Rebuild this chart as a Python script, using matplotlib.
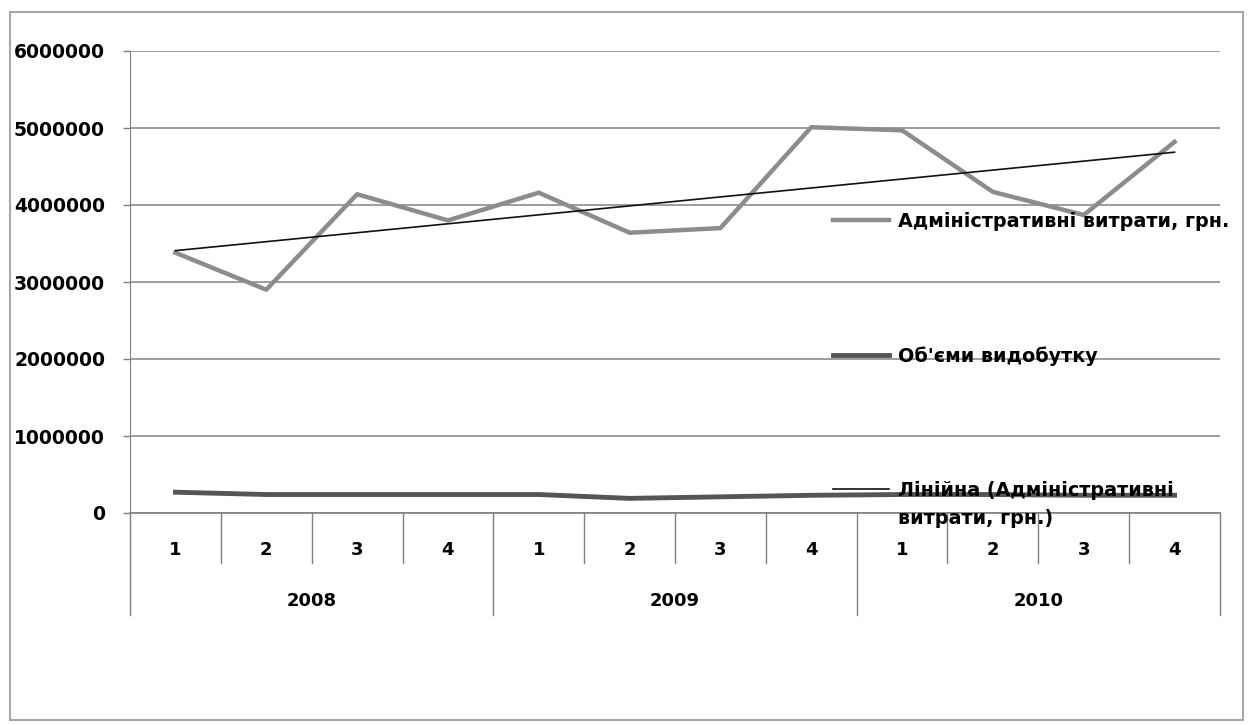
import numpy as np
import matplotlib
matplotlib.use("Agg")
import matplotlib.pyplot as plt
from matplotlib.patches import Rectangle
import matplotlib.transforms as mtransforms

years = ["2008", "2009", "2010"]
quarters = ["1", "2", "3", "4"]
admin_costs = [3380000, 2900000, 4140000, 3800000, 4160000, 3640000,
               3700000, 5010000, 4970000, 4170000, 3870000, 4820000]
production = [270000, 240000, 240000, 240000, 240000, 190000,
              210000, 230000, 240000, 240000, 230000, 230000]
labels = ["Адміністративні витрати, грн.", "Об'єми видобутку",
          "Лінійна (Адміністративні", "витрати, грн.)"]


def show():
    plt.rcParams['font.family'] = ['DejaVu Sans']
    plt.rcParams['font.weight'] = 'bold'
    fs = 13
    lfs = 13.8

    x = np.arange(len(admin_costs))
    k, b = np.polyfit(x, admin_costs, 1)
    trend = k * x + b

    fig = plt.figure(figsize=(12.53, 7.25), dpi=100)
    ax = fig.add_axes([130/1253, 1-513/725, 1090/1253, 462/725])

    fig.patches.append(Rectangle((10/1253, 5/725), 1233/1253, 708/725,
                                 transform=fig.transFigure, fill=False,
                                 edgecolor="#a8a8a8", lw=1.5))

    ax.plot(x, admin_costs, color="#8c8c8c", lw=3.2, label=labels[0], zorder=3)
    ax.plot(x, production, color="#555555", lw=3.5, label=labels[1], zorder=3)
    ax.plot(x, trend, color="#111111", lw=1.2, label=labels[2], zorder=4)

    ax.set_xlim(-0.5, len(x) - 0.5)
    ax.set_ylim(0, 6000000)
    ax.set_yticks(np.arange(0, 6000001, 1000000))
    ax.set_yticklabels([str(v) for v in range(0, 6000001, 1000000)],
                       fontsize=13.5, fontweight='bold')
    ax.tick_params(axis='y', length=5, width=1, color="#808080", pad=13)
    ax.set_xticks([])
    ax.grid(axis='y', color="#8c8c8c", lw=1.2)
    ax.set_axisbelow(True)
    for s in ["top", "right"]:
        ax.spines[s].set_visible(False)
    ax.spines["left"].set_color("#808080")
    ax.spines["bottom"].set_color("#808080")
    ax.spines["bottom"].set_linewidth(1.2)

    # multi-level category axis
    tr = mtransforms.blended_transform_factory(ax.transData, ax.transAxes)
    for i in range(len(x) + 1):
        edge = i - 0.5
        low = -0.22 if i % 4 == 0 else -0.108
        ax.plot([edge, edge], [0, low], color="#808080", lw=1,
                transform=tr, clip_on=False)
    for i in range(len(x)):
        ax.text(i, -0.08, quarters[i % 4], transform=tr, ha='center',
                va='center', fontsize=fs, fontweight='bold')
    for j, yr in enumerate(years):
        ax.text(j * 4 + 1.5, -0.19, yr, transform=tr, ha='center',
                va='center', fontsize=fs, fontweight='bold')

    leg = ax.legend(loc='center left', bbox_to_anchor=(0.645, 0.34),
                    frameon=False, fontsize=lfs, handlelength=2.9,
                    handletextpad=0.5, labelspacing=6.0, borderpad=0,
                    borderaxespad=0)
    for t in leg.get_texts():
        t.set_fontweight('bold')

    # second line of the trendline label
    fig.canvas.draw()
    bb = leg.get_texts()[2].get_window_extent()
    ax.annotate(labels[3], xy=(bb.x0, bb.y0), xycoords='figure pixels',
                xytext=(0, -9), textcoords='offset pixels',
                ha='left', va='top', fontsize=lfs, fontweight='bold')

    fig.savefig("out.png", dpi=100)


if __name__ == "__main__":
    show()
